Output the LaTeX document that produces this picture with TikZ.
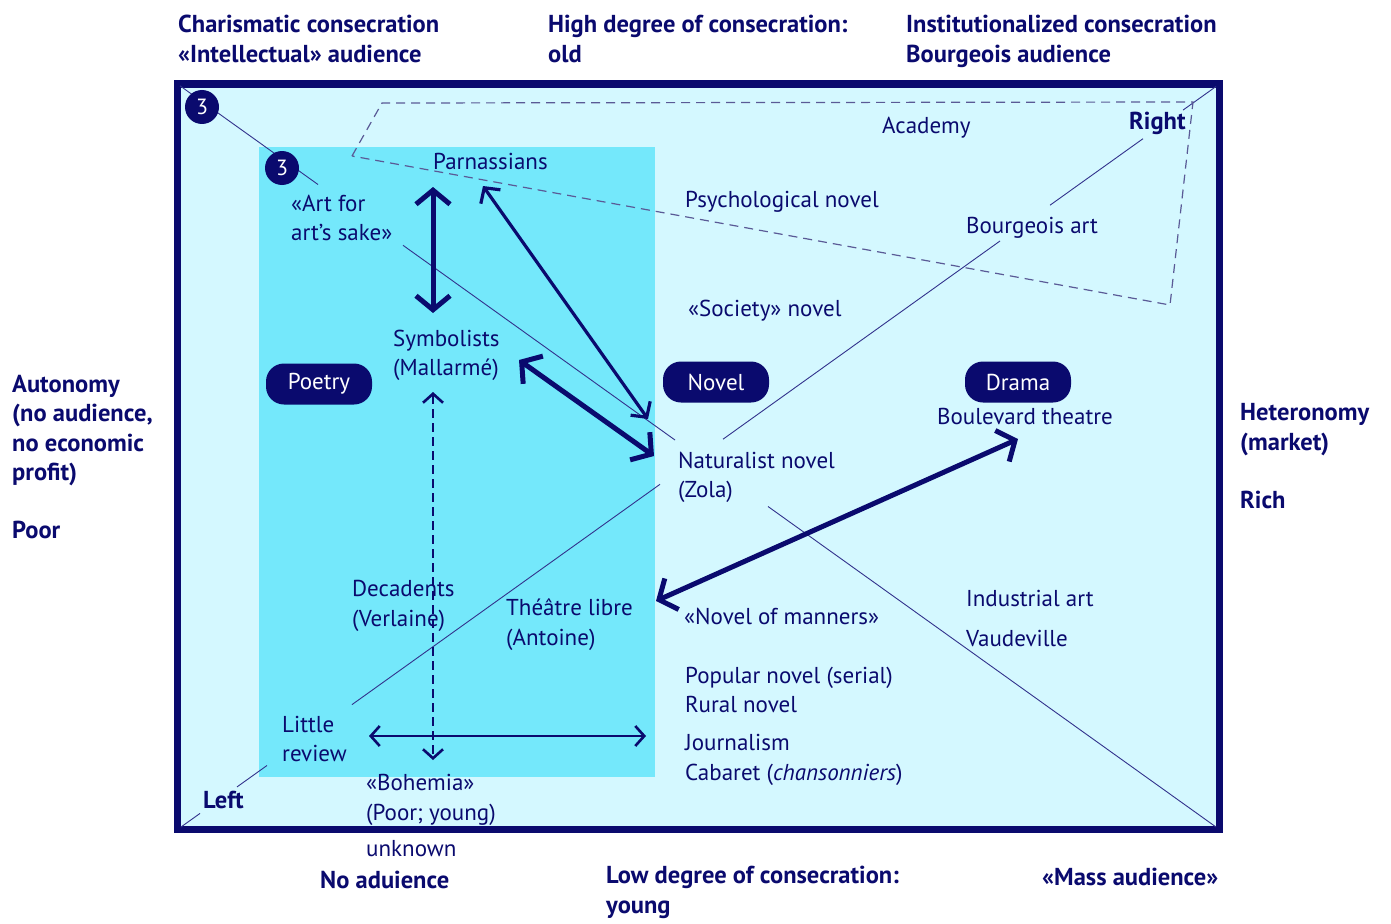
\documentclass[tikz,border=0pt]{standalone}
\usepackage{fontspec}
\setmainfont{PT Sans}
\usetikzlibrary{arrows.meta,calc}
\definecolor{navy}{RGB}{10,10,110}
\definecolor{pale}{RGB}{212,248,255}
\definecolor{cyanbox}{RGB}{116,232,251}
\definecolor{thinline}{RGB}{50,50,140}
\definecolor{dashcol}{RGB}{90,90,150}
\begin{document}
\begin{tikzpicture}[x=1pt,y=-1pt,
  lbl/.style={anchor=base west, align=left, text=navy, inner sep=0pt,
    font=\fontsize{23}{29.5}\selectfont},
  blbl/.style={anchor=base west, align=left, text=navy, inner sep=0pt,
    font=\fontsize{24.5}{29.5}\selectfont\bfseries},
  pill/.style={fill=navy, text=white, rounded corners=18pt, minimum width=106pt,
    minimum height=41pt, inner sep=0pt, font=\fontsize{23}{26}\selectfont},
  num/.style={circle, fill=navy, text=white, minimum size=34pt, inner sep=0pt,
    font=\fontsize{22}{24}\selectfont},
  diag/.style={draw=thinline, line width=0.9pt},
  bigarr/.style={draw=navy, line width=5pt,
    arrows={Straight Barb[length=14pt,width=34pt]-Straight Barb[length=14pt,width=34pt]}},
  midarr/.style={draw=navy, line width=3.2pt,
    arrows={Straight Barb[length=11pt,width=24pt]-Straight Barb[length=11pt,width=24pt]}},
  thinarr/.style={draw=navy, line width=2.6pt,
    arrows={Straight Barb[length=9pt,width=20pt]-Straight Barb[length=9pt,width=20pt]}},
]
\useasboundingbox (0,0) rectangle (1391,923);

% frame and inner field
\draw[navy, line width=7.5pt, fill=pale] (177.5,84) rectangle (1219.5,829.5);
\fill[cyanbox] (259,147) rectangle (655,777);

% diagonal 1 (top left to bottom right)
\coordinate (d1a) at (180,85.8);
\coordinate (d1b) at (318,184.5);
\coordinate (d1c) at (403,245.3);
\coordinate (d1d) at (675,440);
\coordinate (d1e) at (768,506.5);
\coordinate (d1f) at (1216,827);
\draw[diag] (d1a) -- (d1b);
\draw[diag] (d1c) -- (d1d);
\draw[diag] (d1e) -- (d1f);

% diagonal 2 (bottom left to top right)
\coordinate (d2a) at (181,827);
\coordinate (d2b) at (200,813.4);
\coordinate (d2c) at (237,786.9);
\coordinate (d2d) at (267,765.5);
\coordinate (d2e) at (352,704.6);
\coordinate (d2f) at (660,484.3);
\coordinate (d2g) at (723,439.2);
\coordinate (d2h) at (1000,241);
\coordinate (d2i) at (1050,205.2);
\coordinate (d2j) at (1143,138.7);
\coordinate (d2k) at (1183,110.1);
\coordinate (d2l) at (1216,86.5);
\draw[diag] (d2a) -- (d2b);
\draw[diag] (d2c) -- (d2d);
\draw[diag] (d2e) -- (d2f);
\draw[diag] (d2g) -- (d2h);
\draw[diag] (d2i) -- (d2j);
\draw[diag] (d2k) -- (d2l);

% dashed consecrated zone
\coordinate (p1) at (352,156);
\coordinate (p2) at (382,103);
\coordinate (p3) at (1193,102);
\coordinate (p4) at (1170,305);
\draw[dashcol, line width=1.2pt, dash pattern=on 9pt off 6pt] (p1) -- (p2) -- (p3) -- (p4) -- cycle;

% arrows
\coordinate (a1s) at (433,187);
\coordinate (a1e) at (433,313);
\draw[bigarr] (a1s) -- (a1e);
\coordinate (a2s) at (483,186);
\coordinate (a2e) at (648,419);
\draw[midarr] (a2s) -- (a2e);
\coordinate (a3s) at (519,360);
\coordinate (a3e) at (654,456);
\draw[bigarr] (a3s) -- (a3e);
\coordinate (a4s) at (433,392);
\coordinate (a4e) at (433,760);
\draw[thinarr, dash pattern=on 9pt off 5pt] (a4s) -- (a4e);
\coordinate (a5s) at (369,736);
\coordinate (a5e) at (646,736);
\draw[thinarr] (a5s) -- (a5e);
\coordinate (a6s) at (656,601);
\coordinate (a6e) at (1018,439);
\draw[bigarr] (a6s) -- (a6e);

% pills and circles
\node[pill] (poetry) at (319,384) {Poetry};
\node[pill] (novel) at (716,382) {Novel};
\node[pill] (drama) at (1018,382) {Drama};
\node[num] (c1) at (202,107) {3};
\node[num] (c2) at (282,168) {3};

% labels inside (base = baseline of the last line)
\node[lbl] (parn) at (433,169) {Parnassians};
\node[lbl] (artfor) at (291,240.5) {«Art for\\art’s sake»};
\node[lbl] (symb) at (393,375.5) {Symbolists\\(Mallarmé)};
\node[lbl] (psych) at (685,207) {Psychological novel};
\node[lbl] (acad) at (882,133) {Academy};
\node[blbl] (right) at (1129,130) {Right};
\node[lbl] (bourg) at (966,233) {Bourgeois art};
\node[lbl] (soc) at (688,316) {«Society» novel};
\node[lbl] (boul) at (937,424) {Boulevard theatre};
\node[lbl] (nat) at (678,497.5) {Naturalist novel\\(Zola)};
\node[lbl] (dec) at (352,626) {Decadents\\(Verlaine)};
\node[lbl] (theat) at (506,645) {Théâtre libre\\(Antoine)};
\node[lbl] (manners) at (684,624) {«Novel of manners»};
\node[lbl] (indus) at (966,606) {Industrial art};
\node[lbl] (vaud) at (966,646) {Vaudeville};
\node[lbl] (pop) at (685,712.5) {Popular novel (serial)\\Rural novel};
\node[lbl] (journ) at (685,780) {Journalism\\Cabaret (\textit{chansonniers})};
\node[lbl] (little) at (282,761.5) {Little\\review};
\node[lbl] (boh) at (366,820) {«Bohemia»\\(Poor; young)};
\node[blbl] (left) at (203,808) {Left};

% labels outside
\node[lbl] (unk) at (366,856) {unknown};
\node[blbl] (charis) at (178,62.5) {Charismatic consecration\\«Intellectual» audience};
\node[blbl] (high) at (548,62.5) {High degree of consecration:\\old};
\node[blbl] (inst) at (906,62.5) {Institutionalized consecration\\Bourgeois audience};
\node[blbl] (auto) at (12,480.5) {Autonomy\\(no audience,\\no economic\\profit)};
\node[blbl] (poor) at (12,538) {Poor};
\node[blbl] (hetero) at (1240,450) {Heteronomy\\(market)};
\node[blbl] (rich) at (1240,508) {Rich};
\node[blbl] (noaud) at (320,888) {No aduience};
\node[blbl] (low) at (606,913) {Low degree of consecration:\\young};
\node[blbl] (mass) at (1042,885) {«Mass audience»};
\end{tikzpicture}
\end{document}
